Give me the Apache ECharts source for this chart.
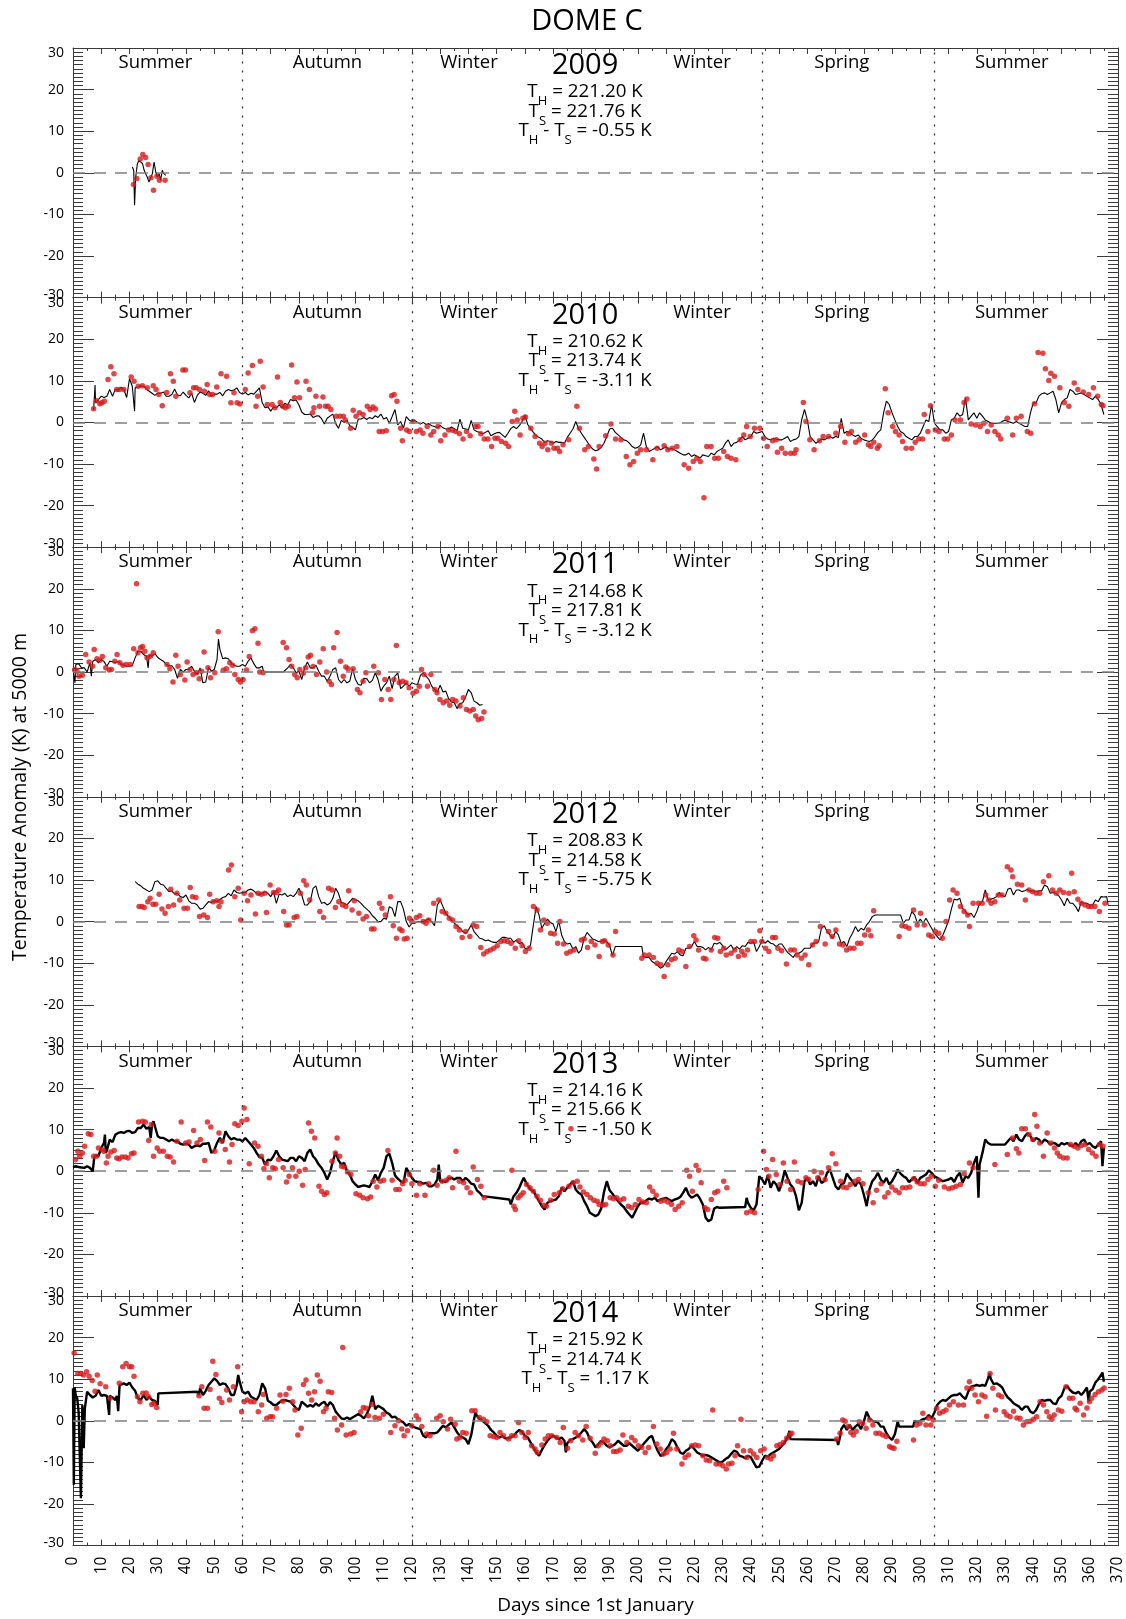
<!DOCTYPE html>
<html><head><meta charset="utf-8">
<script src="https://cdn.jsdelivr.net/npm/echarts@6/dist/echarts.min.js"></script>
<style>html,body{margin:0;padding:0;background:#fff}#c{width:1126px;height:1619px}</style>
</head><body><div id="c"></div>
<script>
const years = ['2009','2010','2011','2012','2013','2014'];
const TH = ['221.20','210.62','214.68','208.83','214.16','215.92'];
const TS = ['221.76','213.74','217.81','214.58','215.66','214.74'];
const THminusTS = ['-0.55','-3.11','-3.12','-5.75','-1.50','1.17'];
const seasons = ['Summer','Autumn','Winter','Winter','Spring','Summer'];
const seasonDays = [29.2, 90.1, 140.2, 222.7, 272.2, 332.4];
const seasonBounds = [60, 120, 244, 305];
const yearLabelDay = 181.3;

const line2009 = [[21,1.4],[21.5,0.6],[21.8,-7.8],[22.2,-1],[22.8,2.2],[23.4,3],[24,2.6],[24.6,2.2],[25.2,0.6],[25.7,-0.2],[26.3,-1],[26.9,-2.2],[27.5,-1.8],[28.1,-0.2],[28.7,2.6],[29.3,0.2],[29.9,-1],[30.5,-0.2],[31,-1.8],[31.6,0.6],[32.2,-0.2],[32.8,-0.6]];
const dots2009 = [[21.4,-2.8],[22.6,-1.4],[23.8,3.3],[24.7,4.4],[25.7,3.7],[26.6,2],[27.6,-1.2],[28.5,-4.2],[29.7,-0.8],[30.6,-1.8],[32.6,-1.8]];

const line2010 = [[7.3,3],[7.8,9],[8,4.7],[9,5.5],[10,6.3],[11,6],[12,6.3],[13,7.9],[14,6.3],[15,8],[16,7.5],[17,8.5],[18,7.9],[19,6],[20,10.5],[21,8.7],[21.8,2.7],[22,8.3],[23,8.5],[24,8.8],[25,8.7],[26,8],[27,7.5],[28,7],[29,6.5],[30,7],[31,7],[32,7.3],[33,6.3],[34,6.3],[35,6.7],[36,8],[37,6.6],[38,6.4],[39,7.3],[40,6.5],[41,5.9],[42,7],[43,4.8],[44,6.5],[45,7.3],[46,7],[47,6.5],[48,7.6],[49,6.4],[50,6.8],[51,6.8],[52,7.2],[53,6.4],[54,7.5],[55,7.9],[56,7.6],[57,7.8],[58,8.3],[59,7.2],[60,6.8],[61,7.2],[62,6.6],[63,7],[64,6.8],[65,7.5],[66,8.3],[67,4.7],[68,3.5],[69,3.7],[70,2.7],[71,3.7],[72,3.5],[73,4.2],[74,3.5],[75,4.6],[76,4.2],[77,5.5],[78,5.2],[79,5.4],[80,4.2],[81,2.5],[82,1.9],[83,1.9],[84,2],[85,1.2],[86,1.5],[87,1.6],[88,0.9],[89,-0.4],[90,1],[91,1.5],[92,2],[93,-0.3],[94,-1.4],[95,0.5],[96,0],[97,0.5],[98,-0.8],[99,-1.2],[100,-1.8],[101,0.8],[102,0.8],[103,1.2],[104,0.7],[105,1.2],[106,0.9],[107,1.6],[108,1.2],[109,2],[110,0.8],[111,1.2],[112,-0.2],[113,1.4],[114,3.1],[115,-0.6],[116,0.2],[117,-1.4],[118,1.4],[119,0.6],[120,0.2],[121,0.5],[122,0],[123,-0.4],[124,0],[125,-0.5],[126,-0.3],[127,-0.8],[128,-1],[129,-1.3],[130,-0.7],[131,-1.3],[132,-1.6],[133,-1.6],[134,-1.1],[135,-1.5],[136,-2],[137,0.8],[138,-1.4],[139,-1.6],[140,-1.8],[141,0.5],[142,-1.8],[143,-2.2],[144,-2.4],[145,-2.8],[146,-2.4],[147,-2],[148,-3.2],[149,-2.8],[150,-2.5],[151,-2.4],[152,-3],[153,-3.6],[154,-2.6],[155,-1.5],[156,-1],[157,-1.5],[158,-0.8],[159,0.2],[160,1.8],[161,-0.5],[162,-1.5],[163,-2.4],[164,-3.2],[165,-3.6],[166,-4],[167,-4.8],[168,-4.4],[169,-4.6],[170,-5],[171,-4.6],[172,-4.8],[173,-4.8],[174,-5],[175,-3.6],[176,-2.6],[177,-1.6],[178,0.2],[179,-1.5],[180,-2.6],[181,-3.6],[182,-4.6],[183,-5.6],[184,-6.4],[185,-6.8],[186,-6.6],[187,-6],[188,-5],[189,-3.4],[190,-1.6],[191,-1.4],[192,-2.4],[193,-3],[194,-3.6],[195,-4.2],[196,-4.4],[197,-5],[198,-5.8],[199,-6.2],[200,-6],[201,-5.4],[202,-2.6],[203,-5.8],[204,-7],[205,-6.6],[206,-6.2],[207,-5.8],[208,-6.6],[209,-6.2],[210,-5.8],[211,-6.6],[212,-6.2],[213,-6.6],[214,-7],[215,-7.4],[216,-7.8],[217,-7.8],[218,-7.4],[219,-8.2],[220,-7.8],[221,-8.2],[222,-8.6],[223,-7.8],[224,-8],[225,-8.2],[226,-7.4],[227,-7.8],[228,-7],[229,-6.6],[230,-6.2],[231,-5],[232,-4.2],[233,-5.8],[234,-5],[235,-4.8],[236,-4.2],[237,-3.4],[238,-4.2],[239,-3.8],[240,-3.4],[241,-2.2],[242,-2.6],[243,-2.4],[244,-2.2],[245,-3.4],[246,-4],[247,-4.2],[248,-3.8],[249,-4],[250,-4.2],[251,-4.2],[252,-3.8],[253,-3.4],[254,-4.6],[255,-4.2],[256,-4],[257,-3.4],[258,0.6],[259,3.1],[260,0.6],[261,-3.4],[262,-4.2],[263,-5],[264,-4.6],[265,-4],[266,-4.2],[267,-3.8],[268,-3.4],[269,-3.8],[270,-3.4],[271,-3.6],[272,1],[273,-2.6],[274,-2.2],[275,-2.4],[276,-3],[277,-3.4],[278,-3],[279,-3.8],[280,-4.2],[281,-4.4],[282,-4.6],[283,-4.2],[284,-3.4],[285,-2.4],[286,-1.8],[287,2.3],[288,5.1],[289,4.3],[290,2.3],[291,0.6],[292,-1],[293,-2.2],[294,-2.6],[295,-3.4],[296,-3.8],[297,-4.2],[298,-3.4],[299,-3.4],[300,-2.6],[301,-1],[302,0.6],[303,0.2],[304,4.3],[305,-0.2],[306,-1],[307,-1.8],[308,-1.8],[309,-2.6],[310,-2.2],[311,0.6],[312,1],[313,2.3],[314,1.5],[315,1.9],[316,5.9],[317,0.6],[318,1.5],[319,2.3],[320,1],[321,2.3],[322,1.5],[323,0.6],[324,0.2],[325,-0.2],[326,-0.2],[327,-0.2],[328,-0.2],[329,0.2],[330,0.6],[331,0.2],[332,0],[333,-0.2],[334,0.2],[335,-0.2],[336,-0.6],[337,-1],[338,-1],[339,2.3],[340,4.7],[341,4.7],[342,6.3],[343,6.9],[344,7.1],[345,6.7],[346,7.1],[347,7.5],[348,5.5],[349,2.3],[350,4.7],[351,5.5],[352,5.9],[353,7.9],[354,7.5],[355,6.7],[356,6.9],[357,7.1],[358,6.7],[359,6.3],[360,5.9],[361,5.5],[362,6.3],[363,5.5],[364,4.3],[365,1.9]];
const dots2010 = [[7.3,3.3],[8.3,5.2],[9.5,4.5],[10.2,4.7],[11.1,5.1],[12.4,10.3],[13.4,13.4],[14.5,11.7],[15.5,7.9],[16.5,7.9],[18,7.9],[20.6,10.9],[21.6,9.9],[23.1,8.7],[24.6,8.8],[26.3,8.3],[28.4,8.8],[29.4,7.9],[30.4,6.7],[31.6,4],[33.2,7.2],[34.5,11.7],[35.5,9.9],[36.4,6.3],[38.9,12.6],[39.8,12.6],[41.4,7.1],[42.7,8.3],[43.6,8.3],[44.8,7.9],[46.5,7.5],[47.5,9.1],[48.4,6.7],[49.4,6.7],[50.9,8.5],[52.4,11.7],[54.4,11.1],[55.9,4.7],[57,7.1],[58.1,4.7],[59.1,4.4],[61,7.9],[62,11.9],[63.5,13.7],[64.8,3.9],[65.4,6.3],[66.3,14.7],[67.3,8.5],[68.8,4.3],[70.5,4.3],[71.5,3.5],[72.4,10.9],[73.4,4.8],[74.3,3.9],[75.2,3.5],[76.2,3.9],[77.4,13.8],[78.4,5.9],[79.3,9.7],[80.2,5.9],[82.5,9.9],[83.7,7.9],[84.8,2.3],[85.3,3.5],[86,6.3],[87.3,3.9],[88.5,6.1],[89.4,3.9],[90.3,3.9],[91.3,3.1],[93.2,1.5],[94.5,1.5],[95.7,1.5],[96.4,0.6],[98.3,-1.4],[99.2,2.9],[100.2,1.5],[101.4,2.3],[102.7,1.9],[104.2,3.9],[105.2,3.1],[106.2,3.7],[107.1,3.2],[108.4,-2.2],[109.6,-2.2],[110.9,-2],[112.8,6.4],[113.7,6.7],[114.7,5.1],[116,-1.4],[116.6,-4.4],[118.1,-1.8],[119.1,-2.2],[120.4,0.2],[121.6,-2.2],[122.9,-1.8],[123.9,-2.6],[125.4,-1],[126.7,-3],[127.7,-2.2],[129.2,-1],[130.2,-4.4],[131.7,-3],[133,-1.8],[134.3,-1.9],[135.5,-2.2],[136.8,-2.7],[138.1,-4],[139.3,-2.2],[140.6,-3.2],[142.5,-1],[143.4,-1],[144.4,-2.7],[145.6,-4],[146.9,-4],[148.2,-5.8],[149.4,-3.8],[150.4,-3.8],[151.7,-4.6],[153.2,-5],[154.2,-5.8],[155.5,0.2],[156.4,2.7],[157.3,0.6],[158.3,-3],[159.3,1],[160.2,1.3],[162.1,-1.4],[163.6,-3.4],[165.2,-5],[166.1,-5.8],[167.1,-5],[168.1,-6.6],[169.4,-5],[170.3,-6.2],[171.5,-6.2],[172.3,-7],[173.5,-5.4],[175.5,-4.2],[178.4,3.9],[179.3,-1.4],[181.2,-6.6],[182.5,-5.8],[184.4,-8.8],[185.4,-11.2],[186.3,-5.8],[188.6,-3.2],[190.5,-0.4],[192.1,-4],[194,-4.2],[195.9,-8.2],[197.2,-10.2],[198.5,-9.4],[199.8,-7.4],[201,-6.6],[203,-6.6],[205.3,-9],[206.8,-6.2],[209.3,-5.6],[210.6,-6.6],[212.2,-6.2],[213.8,-5.8],[216.4,-10.2],[218,-11],[219.6,-9.4],[220.9,-8.6],[222.1,-9.4],[223.4,-18.1],[224.4,-5.8],[225.9,-5.8],[227.2,-8.6],[228.5,-8.6],[230.4,-7],[231.7,-8.2],[233,-8.6],[234.7,-9],[236.2,-4.2],[237.5,-3],[238.5,-1],[239.8,-3.4],[241.3,-1.4],[243.2,-1.4],[244.5,-3.8],[245.8,-5.8],[247.7,-4.4],[249,-4.2],[249.4,-7.2],[250.9,-6.2],[252.2,-7.4],[254.1,-7.4],[255.4,-7.4],[256,-6.6],[258.6,4.8],[259.5,0.2],[260.9,-4.2],[262.4,-6.6],[264.3,-4.4],[265.6,-3.4],[267.5,-3.4],[270.1,-2.6],[271.8,-1],[273.3,-4.8],[274.6,-2.7],[275.6,-2.2],[277.1,-4.8],[278.4,-4.2],[280.3,-3],[281.6,-5.4],[282.5,-5.8],[283.5,-4.8],[284.8,-6.2],[285.4,-5.6],[287.6,8.1],[288.6,2.3],[290.2,-1],[291.2,-2.2],[292.5,-3],[293.7,-4.6],[295,-6.2],[296.9,-6.2],[298.2,-4.8],[299.5,-4],[300.8,-4],[301.4,1.9],[302.7,-2.2],[303.6,4],[305.3,-1.8],[306.6,-2.2],[308.5,-4],[309.7,-4],[311,-3],[312.3,0.6],[314.2,0.6],[315.5,4.8],[316.5,5.6],[318,-0.4],[319.6,-0.6],[321.2,-1],[322.5,-0.2],[323.8,-2.2],[325.1,-0.6],[326.4,-2.2],[327.6,-3],[328.5,-4],[330.8,1],[332.7,-3],[334,1],[335.7,1.5],[337.9,-2.2],[339.1,-2.6],[340.4,4.5],[341.7,16.8],[343.4,16.6],[344.3,12.9],[345.5,10.1],[346.2,11.8],[347.5,11.1],[349.4,8.3],[351,4.8],[352.6,3.9],[354.5,9.5],[355.8,7.9],[357.7,7.3],[359.6,6.7],[361.3,8.3],[362.8,6.3],[364.1,4.3],[364.7,4]];

const line2011 = [[0,0.6],[0.7,-2.6],[1,1.8],[2,2],[3,1],[4,1],[5,0],[6,2.2],[6.5,-1],[7,2.6],[8,3],[9,2.2],[10,3],[11,2.5],[12,1.4],[13,2.6],[14,2.5],[15,2.2],[16,2.6],[17,1.8],[18,1.6],[19,1.4],[20,1.4],[21,1.6],[22,3.4],[23,5],[24,5],[25,4.2],[26,3.8],[26.6,1],[27,4],[28,3.8],[29,4.4],[30,3.5],[31,3],[32,2.6],[33,1.8],[34,1.5],[35,1.5],[36,0.6],[37,-1.5],[38,0.6],[39,0],[40,0.6],[41,0.6],[42,1.4],[43,0.2],[44,-0.6],[45,1],[46,-2.6],[47,-2.4],[48,1.1],[49,0.2],[50,0.6],[51,3],[51.5,7.9],[52,5.5],[53,3.2],[54,3.4],[55,3.2],[56,2.2],[57,1.6],[58,1.4],[59,1.4],[60,1.8],[61,1.4],[62,2.6],[63,3.4],[64,2],[65,1],[66,1],[67,1.4],[67.5,0],[74.5,0],[75,0],[76,1],[77,1.8],[78,1],[79,-0.2],[80,0.2],[81,-1.8],[82,1],[83,2.4],[84,1],[85,1],[86,1.6],[87,0.2],[88,-1],[89,-1],[90,-2.2],[91,-1],[92,0.6],[93,1],[94,-1.8],[95,-2.6],[96,-1.8],[97,-2.6],[98,-2.2],[99,0.8],[100,-1.8],[101,-3],[102,-3.2],[103,-1.5],[104,-1.6],[105,-2.6],[106,-2],[107,-0.2],[108,-1.8],[109,-4.6],[110,-3.4],[111,-2.6],[112,-1],[113,-4],[114,-1],[115,-0.2],[116,-4],[117,-3.4],[118,-2.6],[119,-3.4],[120,-2.6],[121,-2.9],[122,-3],[123,-0.8],[124,-0.2],[125,-1],[126,-1.8],[127,-3.4],[128,-4.2],[129,-4.8],[130,-3.2],[131,-4.8],[132,-4.6],[133,-6.4],[134,-7.2],[135,-7.4],[136,-8.8],[137,-7.6],[138,-7.4],[139,-6],[140,-4.2],[141,-5],[142,-7],[143,-7.4],[144,-8],[145,-7.8]];
const dots2011 = [[0.6,0.6],[1.4,0.2],[2.1,-1],[3.3,-0.8],[4.5,4.2],[5.7,2.4],[6.9,1.4],[7.5,5.4],[8.5,3.2],[9.5,2.8],[10.4,3.7],[11.6,1],[12.8,0.5],[13.6,0.6],[14.8,2.6],[15.6,4.2],[16.6,2.2],[17.7,1.6],[18.9,1.8],[20.3,1.8],[21.5,5.6],[22.5,21.2],[23,4.6],[23.9,5.8],[24.6,6.1],[25.4,5],[26.2,3.4],[27.4,3.8],[28.4,4.6],[33.3,1.8],[34.3,0.8],[35.4,-2.4],[36.4,4],[37.2,1.4],[38,-0.6],[39.6,-1.9],[40.4,2.4],[41.4,0.6],[42.5,-0.6],[43.7,-0.2],[44.7,-1.6],[45.5,0.2],[46.4,4.8],[47.8,1],[48.7,-1.4],[50.2,-0.2],[51.4,9.7],[53.2,0.4],[54.3,0.8],[55.5,2.2],[56.5,1.6],[57.3,-0.6],[58.5,-1.8],[59.3,-2.4],[60.2,-1.8],[61.4,0.5],[62.4,3.7],[63.5,9.9],[64.4,10.4],[65.5,6.9],[66.1,0],[67.3,-0.2],[74.4,7.1],[75.6,5.8],[76.5,3],[77.4,1.4],[78.5,-0.6],[79.4,-1.4],[80.3,0.6],[81.5,-0.3],[82.4,1],[83.3,3.6],[84.1,4],[85,1.3],[86.2,-0.6],[87.4,2.4],[88.6,5.6],[89.8,0],[90.7,-2.2],[91.5,-3],[92.3,5.8],[93.5,9.5],[94.7,2.6],[95.7,-1],[96.6,1.2],[97.4,0.8],[99.2,0.8],[100.7,-4.2],[101.6,-5],[102.7,-2.2],[103.7,-0.2],[106.5,1.4],[108.1,-0.2],[109.2,-6.6],[110.4,-1.8],[111.6,-4.2],[112.5,-6.6],[113.6,-1.8],[114.5,6.4],[115.5,-2.6],[116.7,-2.2],[117.9,-2.6],[119,-3.8],[120.4,-5.1],[121.6,-4.6],[122.6,-3.4],[123.4,0.6],[124.3,-0.6],[125.5,-3.4],[126.7,-0.6],[128.1,-4.2],[128.9,-5],[129.9,-6.6],[131.1,-7.4],[132.3,-7],[133.4,-8],[134.4,-6.6],[135.6,-7],[137,-8.2],[138.2,-6.2],[139.3,-9],[140.5,-9.4],[141.7,-9],[142.6,-10.6],[143.5,-11.5],[144.7,-11.2],[145.5,-9.6]];

const line2012 = [[22,9.6],[23,9],[24,8.6],[25,8],[26,7.6],[27,7.2],[28,7.6],[29,9.6],[30,9.8],[31,9],[32,8.8],[33,8],[34,7.2],[35,7.4],[36,6.6],[37,6.8],[38,6],[39,5.8],[40,6.4],[41,5],[42,4.4],[43,4.4],[44,4],[45,3],[46,3.2],[47,4],[48,4.8],[49,4.6],[50,5],[51,4.8],[52,5.3],[53,5.8],[54,6],[55,6.8],[56,6.2],[57,7.6],[58,7],[59,6.8],[60,7],[61,7],[62,7.6],[63,7.8],[64,7.4],[65,6.8],[66,6.4],[67,6.8],[68,7.2],[69,6.8],[70,6],[71,7.2],[72,4.4],[73,6.6],[74,6.4],[75,6.8],[76,6],[77,6.4],[78,6],[79,6.8],[80,8],[81,6.4],[82,4],[83,4],[84,4.8],[85,8],[86,8.6],[87,6],[88,4.4],[89,4.6],[90,4],[91,4.4],[92,5.6],[93,8],[94,6.8],[95,4.6],[96,4.4],[97,4],[98,4.8],[99,5.6],[100,5.2],[101,5],[102,4.4],[103,3.6],[104,3],[105,2.4],[106,1.4],[107,0.8],[108,0],[109,0],[110,0.8],[111,0.6],[112,3.6],[113,3.2],[114,1.2],[115,4.8],[116,4.8],[117,3],[118,0],[119,-1.3],[120,-0.4],[121,-0.4],[122,0],[123,0],[124,0],[125,0.4],[126,0.6],[127,0],[128,-1],[129,4],[130,5.2],[131,3.6],[132,2],[133,1.2],[134,0.4],[135,-0.4],[136,-1],[137,-1.6],[138,-2.4],[139,-2.8],[140,-2],[141,-0.8],[142,-2.4],[143,-3.2],[144,-4],[145,-4.2],[146,-4.6],[147,-4.4],[148,-4.8],[149,-5],[150,-5],[151,-4.4],[152,-3.8],[153,-3.8],[154,-4],[155,-4],[156,-5],[157,-4.4],[158,-5.3],[159,-5],[160,-6.4],[161,-6.6],[162,-5.6],[163,-0.8],[164,3.6],[165,1.6],[166,-1.6],[167,-0.4],[168,0.6],[169,-0.2],[170,-0.6],[171,-2.4],[172,0.2],[173,-3.2],[174,-4.8],[175,-5.4],[176,-5.2],[177,-6.6],[178,-6],[179,-7.6],[180,-6.8],[181,-4],[182,-2.6],[183,-3.4],[184,-4.2],[185,-4.4],[186,-4.8],[187,-4.8],[188,-4.4],[189,-4.8],[190,-5.8],[191,-8.2],[192,-6],[201.4,-6],[202,-8.4],[203,-8.6],[204,-8.6],[205,-9.6],[206,-10],[207,-10.6],[208,-11.2],[209,-10.8],[210,-9.6],[211,-8.6],[212,-7.6],[213,-7.8],[214,-7.2],[215,-8],[216,-8.2],[217,-6.4],[218,-6.4],[219,-6],[220,-4.8],[221,-6],[222,-6],[223,-6.2],[224,-6.8],[225,-6.2],[226,-6.8],[227,-5.2],[228,-5.4],[229,-5],[230,-5.8],[231,-6.8],[232,-6.2],[233,-5.6],[234,-6.8],[235,-6],[236,-6.6],[237,-5.8],[238,-6],[239,-5],[240,-5.2],[241,-5],[242,-7.2],[243,-6],[244,-4.4],[245,-5.2],[246,-4.6],[247,-5.2],[248,-5.4],[249,-6],[250,-5.4],[251,-5.4],[252,-6.4],[253,-7.4],[254,-8],[255,-8.6],[256,-7.6],[257,-7.6],[258,-7.2],[259,-6.4],[260,-6.4],[261,-6.4],[262,-5.2],[263,-5.2],[264,-4.8],[265,-1.6],[266,-1],[267,-2.4],[268,-3.2],[269,-4],[270,-2.4],[271,-3.2],[272,-5.2],[273,-4.8],[274,-6],[275,-4],[276,-2.8],[277,-1.2],[278,-2.4],[279,-1.6],[280,-2],[281,-0.8],[282,0],[283,1.2],[284,1.6],[293,1.6],[294,-0.4],[295,0.4],[296,0.4],[297,2.4],[298,1.6],[299,-0.4],[300,0.6],[301,-0.4],[302,0.8],[303,-0.4],[304,-1.6],[305,-2.8],[306,-3.6],[307,-4.4],[308,-3.2],[309,-1.6],[310,0.2],[311,3],[312,5.4],[313,5.2],[314,5.6],[315,3.2],[316,2.4],[317,1.6],[318,2],[319,1],[320,2.4],[321,4.4],[322,4.8],[323,7.6],[324,5.2],[325,5.4],[326,5.6],[327,6],[328,7],[329,6.2],[330,6],[331,7.8],[332,8],[333,6.4],[334,7.6],[335,7.6],[336,7.2],[337,7.4],[338,7.8],[339,7.2],[340,7.4],[341,7.2],[342,7.4],[343,7.4],[344,8.8],[345,8.4],[346,6.8],[347,7],[348,6.8],[349,6.2],[350,5.2],[351,3.8],[352,5.6],[353,4.4],[354,4.4],[355,3.6],[356,2.4],[357,4.8],[358,4.4],[359,4.4],[360,4],[361,4],[362,5.2],[363,4.8],[364,6],[365,5.9],[366,6],[366.5,4]];
const dots2012 = [[23.4,3.6],[24.4,3.6],[25.2,3.4],[26.5,4.8],[27.3,5.6],[28.3,4.2],[29.3,4.2],[30.5,6.6],[31.5,3],[32.6,2],[33.8,3.6],[34.6,7.8],[35.6,4],[36.8,6.8],[37.8,5.2],[39.3,3.2],[40.5,3.2],[41.5,8.2],[42.3,6],[43.5,5.8],[44.8,1.2],[46.3,1.6],[47.6,1],[48.4,6.6],[49.6,4.8],[50.9,5],[51.7,3.6],[52.4,4.8],[55.1,12.4],[56.1,13.6],[57.3,6],[58.5,8],[59.4,0.4],[60.6,6.8],[61.8,5],[63,6.4],[64.6,1.8],[65.5,6.8],[66.7,6.6],[67.9,6.8],[68.5,2.2],[69.8,8.8],[71,7],[72,7],[72.8,7.6],[74.6,2.4],[75.6,-0.8],[76.5,-0.8],[78.3,1],[79.3,1.2],[80.5,6.8],[81.7,9.8],[82.6,8.8],[83.8,5.2],[87.4,2.4],[88.7,1],[90.5,8],[91.7,7.6],[92.9,3.4],[94.1,4.8],[95.4,4],[96.6,3.6],[97.6,7.4],[98.8,2.8],[99.6,5],[101.2,2],[102.7,0.6],[103.9,1.2],[105.7,-1.8],[106.6,-1.8],[108.5,4.4],[109.4,3.2],[110.6,1.6],[112.4,6],[113.4,-1],[114.5,-4],[115.7,-1.8],[116.5,-2.2],[117.3,-4.2],[118.3,-4],[119.1,0.8],[120,0],[121.6,1],[122.8,1.4],[124,0],[125,-0.4],[125.9,0.4],[127.7,4.4],[129.5,5.2],[130.7,2.4],[132,2],[133.2,0.8],[134.4,0.4],[135.6,-1.2],[136.8,-2],[137.8,-3.8],[139,-2.4],[140.5,-3.6],[141.7,-0.8],[142.9,-1.2],[144.4,-6.2],[145.4,-7.8],[146.6,-7.2],[147.8,-6.8],[149,-6.4],[150.2,-5.8],[151.5,-4.8],[152.7,-4.6],[153.9,-4.8],[155.1,-5.2],[156.6,-6.4],[157.8,-4.6],[159,-5.8],[160.2,-7.2],[161.5,-6.4],[163,3.6],[164.3,2.8],[165.5,-2],[166.7,0.4],[167.9,-0.4],[169.1,-2.8],[170.4,-3],[171.6,-5.2],[172.4,0],[173.7,-5.4],[174.8,-7.6],[176.1,-7.2],[177.4,-6.8],[180,-4.4],[181,-4.2],[182.2,-6.2],[183.5,-4.8],[184.8,-5.6],[186.3,-8.4],[187.4,-4.8],[188.2,-4.6],[189.5,-5.6],[191.2,-8],[192.1,-2.4],[201.4,-8.8],[202.3,-8],[204,-8],[205.5,-8.6],[206.8,-10],[208.1,-10.4],[209.3,-13.2],[210.6,-10.4],[211.9,-9.2],[213.2,-8.8],[214.5,-6.8],[215.7,-7.2],[217,-10.8],[218.3,-6],[219.8,-3.4],[220.6,-4.4],[221.5,-6.8],[223.2,-8.8],[224.1,-9],[226,-6.8],[227.2,-3.8],[228.3,-4],[229.2,-7.2],[230.4,-6.4],[231.3,-8],[233,-7.6],[234.3,-6.8],[235.6,-8.4],[236.8,-7.2],[237.7,-8],[238.8,-6.8],[240,-4.8],[241.3,-4.8],[243.2,-2.2],[243.9,-4.8],[245.2,-6.4],[246.4,-7.2],[247.7,-3.8],[248.7,-3.8],[249.6,-6.4],[250.9,-7],[252.6,-10.2],[254.1,-6.8],[255.4,-6.8],[256.4,-8],[257.9,-8.8],[259.2,-8],[260.5,-10.4],[261.8,-5.6],[263.1,-4.8],[264.6,-1.2],[266.3,-5.4],[267.5,-2.4],[268.8,-3.6],[270.1,-2],[271.4,-5.4],[272.6,-5.6],[273.9,-6.8],[275.2,-6.4],[276.5,-6.4],[277.8,-5.2],[279,-5.2],[280.3,-3.2],[281.6,-2],[282.5,-3.4],[283.5,2.6],[292.5,-3.6],[293.5,-1],[294.8,-1.2],[296,-1.6],[297.6,2.8],[298.9,-0.8],[300.1,2],[301.4,-0.8],[303,-3.2],[304,-3.6],[305.3,-2.4],[306.5,-2.8],[307.8,-4],[309.1,0],[310.4,5.2],[311.6,7.6],[313,6.8],[314.2,3.6],[315.5,2.4],[316.8,1.6],[317.4,-1.2],[318.7,4.4],[320.6,4.4],[321.9,4.4],[323.2,6.4],[324.2,5.2],[325.1,4.4],[326.4,4.8],[327.6,6.4],[328.9,6.4],[330.8,13.2],[332.1,12.4],[332.7,10.8],[334.4,9],[335.9,8.8],[337.2,5.2],[338.5,7.6],[339.8,7.2],[341.1,6.8],[342.3,6.8],[343.6,9.6],[345.5,11],[346.8,7.6],[348.1,6.8],[349.4,7.6],[350.7,7],[352.6,6.8],[353.6,11.6],[354.5,7.2],[355.8,5.4],[357,4.4],[358.3,4],[359.6,3.6],[360.5,3.6],[361.8,3.6],[363.4,2.4],[365.4,4.4]];

const line2013 = [[0,1],[1,1.2],[2,1],[3,0.9],[4,0.8],[5,1.2],[6,0.8],[7,0],[7.5,3.2],[8,3.8],[9,3.6],[10,5.6],[11,6.8],[11.3,8.8],[11.6,4.4],[12,5],[13,7.6],[14,7],[15,8.8],[16,9.2],[17,9.4],[18,9.2],[19,9.6],[20,9.7],[21,9.2],[22,9.4],[23,10.4],[24,10.4],[25,11.2],[26,10.2],[27,10.6],[27.5,8],[28,11.2],[28.5,12],[29,12],[30,8.4],[31,8],[32,8],[33,7.6],[34,7.2],[35,7.6],[36,7.2],[37,7.2],[38,6.6],[39,6.4],[40,6.6],[41,6.4],[42,5.6],[43,6],[44,6.2],[45,6],[46,6.6],[47,6.6],[48,6.8],[49,4.4],[50,5],[51,6.8],[52,8],[53,6.8],[54,9.6],[55,8.4],[56,7.6],[57,8],[58,7.6],[59,7.6],[60,7.2],[61,8],[62,7.2],[63,6.4],[64,5.6],[65,4.4],[66,3.4],[67,3.2],[68,1.6],[69,2.8],[70,2.6],[71,3.6],[72,5],[73,3.6],[74,2.8],[75,2.6],[76,2.4],[77,3.2],[78,3.2],[79,2.4],[80,3.6],[81,3.2],[82,2.4],[83,4.4],[84,5.2],[85,3.6],[86,2.8],[87,1.6],[88,0.8],[89,-0.4],[90,-2],[91,-0.4],[92,2.4],[93,4.6],[94,2.6],[95,1.6],[96,2],[97,0],[98,-0.8],[99,-2.4],[100,-3.2],[101,-3.8],[102,-3.6],[103,-3.4],[104,-3.6],[105,-3.8],[106,-2.4],[107,-0.8],[108,-2.2],[109,-0.4],[110,0.8],[111,3.6],[112,4.2],[113,2],[114,-1],[115,-1.8],[116,-2.4],[117,-2.8],[118,0.8],[119,-0.4],[120,-1.6],[121,-2.4],[122,-2.6],[123,-2.6],[124,-3],[125,-2.8],[126,-3.6],[127,-3.6],[128,-3.2],[129,-2],[129.5,1.6],[130,-2.4],[131,-2.4],[132,-2.6],[133,-1.8],[134,-1.6],[135,-2],[136,-1.6],[137,-1.6],[138,-2.4],[139,-1.6],[140,-2.2],[141,-3],[142,-3.2],[143,-4.6],[144,-5.2],[145,-6],[154.5,-6.8],[155,-8],[156,-6],[157,-5.2],[158,-4],[159,-2.4],[159.6,-1.6],[160,-2.2],[161,-3.4],[162,-4.4],[163,-4.8],[164,-6],[165,-7.2],[166,-8.4],[167,-9.2],[168,-7.6],[169,-7.2],[170,-7],[171,-6.8],[172,-6],[173,-4],[174,-4.8],[175,-4],[176,-3.2],[177,-2.4],[178,-4.4],[179,-5.2],[180,-5.6],[181,-7.2],[182,-8.4],[183,-10],[184,-10.4],[185,-10.8],[186,-10.4],[187,-9],[188,-5],[189,-2.4],[190,-4.6],[191,-5.4],[192,-6.4],[193,-7.2],[194,-8],[195,-8.6],[196,-9.6],[197,-10.4],[198,-11.2],[199,-9.8],[200,-8.4],[201,-7.6],[202,-7.6],[203,-7],[204,-6.6],[205,-6.8],[206,-6.4],[207,-7.2],[208,-6.8],[209,-6.6],[210,-6.4],[211,-6.8],[212,-7.2],[213,-6.8],[214,-6.6],[215,-6.2],[216,-5.2],[217,-4],[218,-5.6],[219,-6.4],[220,-6],[221,-5.6],[222,-6.6],[223,-8],[224,-11.2],[225,-12],[226,-11.6],[227,-9],[228,-8.6],[229,-8.8],[238,-8.6],[238.5,-6.4],[239,-7.6],[240,-8.8],[241,-9.4],[242,-8],[243,-1.2],[244,-2],[245,-3.2],[246,-1],[247,-4],[248,-2.4],[249,-3.2],[250,-4.8],[251,-2.8],[252,0.2],[253,-1.6],[254,-3.2],[255,-4],[256,-6],[257,-9.4],[258,-7.6],[259,-2.4],[260,-1.6],[261,-3.2],[262,-2.4],[263,-3.6],[264,-1.2],[265,-2.8],[266,-2.4],[267,-0.4],[268,0.4],[269,-1.6],[270,-3.6],[271,-4.4],[272,-3.2],[273,-2.8],[274,-0.6],[275,-1.6],[276,-2.4],[277,-3.6],[278,-2.4],[279,-3.2],[280,-5.6],[281,-8.4],[282,-4.4],[283,-2.4],[284,-1.6],[285,-0.4],[286,-2],[287,-2.8],[288,-1.6],[289,-3.2],[290,-2.4],[291,-1.2],[292,0.4],[293,-0.6],[294,-1.2],[295,-1.6],[296,-2.6],[297,-2],[298,-1.4],[299,-2.8],[300,-1.6],[301,-1.2],[302,-0.8],[303,0.2],[304,-0.4],[305,-1.2],[306,-1.6],[307,-2],[308,-2.4],[309,-2.2],[310,-2],[311,-1.6],[312,-2.6],[313,-1.2],[314,-0.4],[315,-2.8],[316,-1.2],[317,-1.6],[318,-0.4],[319,2],[320,3.6],[320.6,-6.4],[321,1.6],[322,4.4],[323,7.6],[324,6.8],[325,6.4],[330,6.4],[331,7.2],[332,8],[333,7.2],[334,8.8],[335,7.6],[336,7.2],[337,8.4],[338,9.2],[339,8.4],[340,7.2],[341,8],[342,7.6],[343,6.8],[344,7.6],[345,7.2],[346,6.4],[347,6.8],[348,6.6],[349,6],[350,6.8],[351,6.4],[352,6.8],[353,6.2],[354,6],[355,6.8],[356,6],[357,7.2],[358,7.6],[359,6.4],[360,6.8],[361,6],[362,5.6],[363,6.4],[364,7.2],[364.5,1.2],[365,5.6]];
const dots2013 = [[0.9,2.8],[1.7,4.8],[2.4,3.6],[3.3,4.4],[4.1,6],[5.4,9],[6.3,8.8],[7.3,3.6],[8.3,3.6],[9,5.6],[10.2,5.2],[10.9,4.8],[11.8,2],[12.4,3.6],[13.4,4.6],[14.6,5],[15.5,3.2],[16.3,3],[17.3,3.4],[18.5,3.4],[19.5,3.2],[20.7,4.2],[21.6,4.4],[23.2,11.8],[24.6,12],[25.6,11.8],[26.8,7.4],[27.7,11.2],[28.5,3.6],[29.8,5.6],[30.7,4.8],[32,4.8],[33.4,3.6],[34.4,3.4],[35.6,2.2],[36.8,7.2],[38.3,11.8],[39.9,6.8],[41.1,7],[42.7,9.8],[43.9,6.8],[45.1,7.6],[46.6,2.6],[47.6,11.8],[48.8,10.6],[50.2,4.8],[51.7,9.2],[52.7,7.2],[53.9,5.2],[55.4,2.2],[56.3,6.4],[57.3,11.4],[58.5,11],[59.8,12],[60.6,15.2],[61.6,12.4],[62.4,1.8],[64.3,6.8],[65.5,6],[66.7,3.6],[67.6,0.6],[68.5,1.8],[69.5,-1.6],[70.7,0.8],[71.6,0.6],[72.8,2.8],[74.4,0.8],[75.6,-2.6],[76.5,-1.2],[77.7,0.8],[78.9,-1.2],[80.1,0],[81.3,-3.4],[82.2,0.4],[83.4,11.6],[84.4,9.6],[85.6,8],[87.1,-3.6],[88,-4.8],[89,-5.6],[89.9,-5.2],[91.7,2.4],[92.9,4.4],[93.5,8],[94.4,3.6],[95.1,1.2],[96,1],[97.2,-0.2],[98.4,-0.8],[100.2,-5.4],[101.5,-5.8],[102.7,-6.4],[104.3,-6.6],[105.4,-6.2],[106.3,-2.4],[107.6,-3.8],[108.8,-2.4],[110,-2.2],[111.5,5],[113,-2.2],[114.3,-4.4],[115.5,-4.4],[116.7,-3],[117.6,-2.2],[119.1,-0.8],[120,-3],[121.6,-5.8],[122.8,-3],[124.6,-5.8],[125.9,-3],[127.7,0.2],[128.9,-3.4],[130.7,-2.4],[132.2,-2.2],[133.2,-1.6],[134.4,-4],[135.6,4.8],[136.8,-2.4],[138.3,-2.8],[139.5,-4],[140.7,-5.2],[141.7,1],[143.2,-2],[144.4,-3.6],[145.6,-6.4],[155.4,0.2],[156.1,-8.4],[156.6,-9.2],[157.6,-6.4],[158.5,-5.8],[159.4,-5.2],[160.6,-3.2],[161.8,-4],[163,-4.8],[164.3,-6],[165.5,-7],[166.7,-8.2],[167.6,-8.4],[169.1,-7],[170.4,-5.6],[172.2,-5.2],[173.4,-4.2],[175.6,-3.6],[176.3,10.2],[177.1,-2.8],[178.5,-2.4],[179.5,-3.8],[180.7,-5],[182,-5.6],[183.2,-6.4],[184.4,-7],[185.6,-7.2],[186.3,-8],[187.6,-8.2],[188.6,-8],[190.2,-6.4],[191.4,-6.6],[192.5,-6.4],[193.7,-7],[195,-6.6],[196.6,-8.4],[197.8,-8.8],[199.1,-8],[200.4,-6.8],[201.7,-7.4],[203,-7.6],[204.2,-3.8],[205.3,-4.8],[206.5,-5.8],[208.1,-7.2],[209.3,-7],[210.6,-7.4],[211.9,-8],[213.2,-9.2],[214.5,-8.4],[215.7,-7.6],[217.3,0.2],[218.3,-1.2],[219.3,-4.8],[220.6,1.4],[221.5,0.2],[222.4,-2.8],[223.7,-8.8],[224.7,-9.2],[226,-6.8],[227.2,-5.2],[228.3,-4.8],[230.4,-2.4],[231.5,-4],[238.5,-10],[240,-9.6],[241.3,-10],[242.6,-4.4],[244.5,4.8],[245.5,0.4],[246.4,-1.2],[247.7,2.8],[249,-0.8],[250.3,-3.2],[251.5,2],[252.8,-2.4],[254.1,-4.4],[255.4,2.2],[256.7,-2.4],[258,-2.8],[259.5,-1.6],[260.5,-2],[262.4,0],[263.7,-1.6],[265,-0.4],[266.3,-2],[267.5,0.8],[268.8,4.2],[270.1,1.8],[271.8,-2.4],[272.6,-3.8],[273.9,-4],[275.2,-3.2],[276.9,-2.4],[278.1,-2],[279.7,-3],[281.6,-5.2],[283.3,-7.6],[284.5,-4.6],[286.1,-3],[287.4,-6.2],[288.6,-5.2],[289.9,-3.8],[291.2,-4.6],[292.5,-5.2],[293.7,-4],[295,-4],[296.3,-3.8],[297.6,-1.8],[298.9,-2.6],[300.1,-3],[301.4,-3],[302.7,-2],[303.9,-1.2],[305.3,-3.6],[306.5,-2.2],[308.5,-3.8],[310.1,-4.2],[311.4,-4],[312.7,-3.6],[314.2,-3.2],[315.5,-0.6],[317.4,2],[318.7,0.8],[326.4,1.6],[330.8,4],[332.7,8],[334,5.4],[334.9,4.4],[335.9,10.2],[337.2,10.2],[338.5,8.8],[339.8,7.6],[340.5,13.6],[341.3,10.8],[342.3,6.8],[343.6,3.6],[344.9,9.2],[346.2,6.8],[347.5,5.6],[348.5,4.4],[349.4,3.6],[350.7,3.2],[352,3.2],[353.2,6.4],[354.5,6],[355.8,5.6],[357,6.2],[358.3,6.4],[359.6,5.2],[360.9,4.4],[362.2,3.6],[363.4,6.4],[364.7,6]];

const line2014 = [[0,7.8],[0.3,-15.4],[0.6,8],[1,6],[1.5,5.4],[2,2],[2.8,-18.6],[3.3,3.8],[3.8,-6.6],[4.2,3],[5,7],[6,6.2],[7,5.6],[8,6],[9,7.4],[10,6],[11,6.2],[12,6],[12.8,1.4],[13,6],[14,5.6],[15,5],[15.5,6],[16,2.3],[16.5,8.6],[17,8.8],[18,9],[19,8.6],[20,9.2],[21,8],[22,7.2],[23,5.4],[24,5],[25,6.2],[26,5],[27,5.8],[28,5],[29,4.8],[30,3.8],[30.2,6.6],[44,7],[44.5,6.2],[45,7.8],[46,6.2],[47,7.2],[48,8.6],[49,9.4],[50,10.2],[51,9.6],[52,8.6],[53,9],[54,8.8],[55,7.8],[56,6.2],[57,6.2],[58,8.6],[58.5,11],[59,9.4],[60,7],[61,6.6],[62,7],[63,5.8],[64,5.4],[65,5],[66,6.2],[67,9],[68,7.8],[69,4.8],[70,4.4],[71,3.8],[72,3.8],[73,4.4],[74,4.9],[75,5],[76,4.8],[77,4.6],[78,3.8],[79,3],[80,2.6],[81,4.6],[82,4],[83,3.4],[84,3.8],[85,3.4],[86,4.2],[87,3.6],[88,4.2],[89,4.6],[90,3.4],[91,4.5],[92,3.8],[93,2.2],[94,1.4],[95,0.6],[96,0.4],[97,0.8],[98,0.4],[99,0.8],[100,1.2],[101,1.6],[102,1.2],[103,0.6],[104,1.6],[105,3.2],[106,6],[107,2.8],[108,3.6],[109,3.2],[110,2.8],[111,2],[112,1.6],[113,0.8],[114,1],[115,0.4],[116,0],[117,-0.4],[118,-1.2],[119,-0.8],[120,-1.2],[121,-1.6],[122,-1.8],[123,-2],[124,-3.6],[125,-4],[126,-3],[127,-3],[128,-3],[129,-2.8],[130,-2],[131,-1.2],[132,-1.6],[133,-1],[134,-0.4],[135,-1.6],[136,-2.8],[137,-3.6],[138,-4],[139,-4.4],[140,-5.6],[141,-3.4],[142,0.4],[142.5,2],[143,1.2],[144,0.4],[145,0],[146,-0.6],[147,-1.2],[148,-2.2],[149,-2.8],[150,-3.6],[151,-4],[152,-3.6],[153,-4.2],[154,-4.2],[155,-4],[156,-3.6],[157,-2.8],[158,-2.2],[159,-2.6],[160,-3.6],[161,-4],[162,-5.2],[163,-6.4],[164,-7.6],[165,-8.4],[166,-7],[167,-5.8],[168,-4.8],[169,-4],[170,-3.6],[171,-4],[172,-4.4],[173,-4],[174,-4.8],[174.5,-7.6],[175,-5.4],[176,-4.6],[177,-4.4],[178,-4],[179,-3.6],[180,-2.8],[181,-2],[182,-2.8],[183,-4.4],[184,-5.2],[185,-6.4],[186,-5.6],[187,-4.8],[188,-5.2],[189,-6],[190,-6.4],[191,-6],[192,-5.6],[193,-4.8],[194,-5.4],[195,-6],[196,-6],[197,-5.4],[198,-6],[199,-6.6],[200,-7.2],[201,-6.4],[202,-5.6],[203,-4.8],[204,-4],[205,-3.6],[206,-5.6],[207,-7.2],[208,-8.4],[209,-8.2],[210,-6.8],[211,-6],[212,-4.4],[213,-5],[214,-6.4],[215,-7.6],[216,-8],[217,-7.2],[218,-6.8],[219,-6],[220,-6.8],[221,-7.6],[222,-8],[223,-8.4],[224,-8.2],[225,-8.4],[226,-8.8],[227,-9.2],[228,-9.6],[229,-10],[230,-9.8],[231,-9.2],[232,-8.8],[233,-8],[234,-7.2],[235,-7.4],[236,-8.4],[237,-8.6],[238,-9],[239,-8.4],[240,-8.8],[241,-10],[242,-11.2],[242.5,-11.6],[243,-11],[244,-9.6],[245,-8.4],[246,-8.6],[247,-8],[248,-7.6],[249,-7.2],[250,-6.8],[251,-6],[252,-5.2],[253,-4],[253.7,-2.4],[254,-4.4],[270.5,-4.6],[270.9,-5.8],[271.6,-3.8],[272,-2],[273,-1],[274,-2.2],[275,-1],[276,-2.2],[277,-1.4],[278,-0.8],[279,-2],[280,-0.2],[281,2.2],[282,0.6],[283,0],[284,-0.2],[285,-0.4],[286,-1.4],[287,-1.4],[288,-3],[289,-4],[290,-4.6],[291,-3.2],[292,-0.2],[292.5,-1.4],[297.5,-1.4],[298,0],[299,-0.2],[300,0],[301,0.4],[302,0.6],[303,1.4],[304,0.6],[305,2],[306,3.8],[307,4.6],[308,5],[309,4.8],[310,5.4],[311,6],[312,6.2],[313,6.2],[314,6.6],[315,5.8],[316,5.2],[317,7],[318,8.2],[319,8.4],[320,8.6],[321,8.4],[322,8.6],[323,8.4],[324,10.2],[324.5,11.4],[325,10],[326,8.8],[327,9],[328,8.6],[329,8],[330,6.6],[331,5.6],[332,5],[333,4.2],[334,3.8],[335,3.4],[336,2.6],[337,3.4],[338,3.4],[339,2.2],[340,1.8],[341,2.6],[342,4],[343,5],[344,4.8],[345,5],[346,5],[347,4.2],[348,4],[349,5.4],[350,6],[351,7.8],[352,8.4],[353,7.4],[354,6.8],[355,6.6],[356,7],[357,6.2],[358,7],[359,8],[359.6,4.6],[360,7],[361,7.6],[362,9.2],[363,10],[364,11],[364.5,11.6],[365,9.4]];
const dots2014 = [[0.4,16.3],[1.7,11.4],[2.7,11.4],[3.7,11],[4.8,11.8],[5.7,10.7],[6.8,9.7],[7.8,7.1],[8.6,11],[9.6,8.9],[11.6,8.2],[13.1,5.4],[16.4,9],[17.6,13],[18.8,13.8],[20,13],[20.8,13],[21.6,10.7],[22.8,5.8],[23.7,4.6],[24.7,6.6],[25.9,6.7],[26.7,5.8],[27.9,3.9],[28.7,4.2],[29.6,3.2],[44.6,6],[45.6,8.2],[46.4,3],[47.6,3],[48.5,7.5],[49.5,14.3],[50.6,11.1],[51.8,5.4],[52.7,4.4],[54.4,7.4],[55.4,5],[56.8,8.2],[58.3,13],[59.7,2.2],[60.6,4.6],[61.7,5],[62.9,4.6],[64.1,4.6],[65.6,2.2],[66.8,3.8],[67.4,6.3],[68.6,0.6],[69.8,1],[70.7,1],[72.1,3],[73.3,6.2],[74.3,4.7],[75.4,6.3],[76.6,7.8],[77.8,4.6],[78.6,2.6],[79.6,-3.4],[80.8,-1.8],[81.6,8.7],[82.5,9.8],[83.4,6.6],[84.5,5],[85.5,7],[86.5,11],[87.5,9.5],[88.7,2.2],[89.6,3],[90.4,7],[91.6,6.8],[92.6,0.6],[93.6,-2.2],[95.1,-1],[95.5,17.6],[96.7,-3.4],[98.3,-3.2],[99.5,-2.8],[101.9,2.2],[102.8,3.2],[103.8,3],[104.6,1.2],[105.8,4],[106.9,0.8],[108.5,0.6],[109.9,1.6],[112.5,-2.8],[114,-1.2],[115.2,0],[116.4,-2],[117.2,-3.6],[118.4,-2.4],[119.9,-1.2],[121.5,1.2],[122.3,0.4],[123.5,-1.4],[125.2,-3.2],[126.4,-3.6],[128.8,0.6],[130,1.2],[131.1,-0.2],[132.6,-2],[133.7,0.4],[135.3,-0.8],[135.9,-4.4],[137,-4],[138,-2.8],[139.2,-3],[141.2,2.4],[142.4,2.4],[143.9,0.8],[145.3,0.4],[146.5,-0.2],[147.7,-3.6],[148.9,-3.8],[150,-4],[151.2,-2.8],[152.4,-3.6],[154.2,-4.4],[155.3,-3.6],[156.5,-3.6],[157.7,-0.4],[158.9,-2.8],[160.1,-4],[161.2,-2.8],[162.4,-6],[163.6,-6.8],[164.4,-7.6],[166,-5.8],[167.2,-4.4],[168.3,-3.6],[169.5,-3.6],[171.3,-4],[172.5,-5.2],[173.6,-1.6],[175.1,-6.6],[176.2,-4.8],[177.8,-2.8],[179,-3.6],[180.5,-4.6],[181.7,-1.4],[183.1,-4.2],[184.9,-7.8],[186,-6],[187.2,-5.2],[188,-4.4],[189.2,-4.8],[190.2,-6],[191.4,-7.4],[192.5,-7.4],[193.7,-7],[194.7,-3.4],[196.1,-5.2],[197.8,-4],[199,-4.8],[200.2,-6],[201.4,-6.4],[202.6,-7.6],[203.8,-6.4],[205.5,-1.4],[206.7,-5.6],[207.9,-6.8],[209.1,-8],[210.2,-7.6],[211.4,-6.8],[212.6,-3],[213.8,-6.8],[215.6,-10.4],[216.7,-8.8],[217.9,-8.2],[219.1,-6],[220.3,-5.8],[221.5,-6],[223,-8.4],[224.2,-9.4],[225.4,-9.6],[226.5,2.6],[227.7,-10.4],[228.9,-10.4],[230.1,-10.8],[231.3,-11.6],[232.1,-10.4],[233.3,-10.2],[234.4,-8.4],[235.3,-6],[236.5,0.4],[237.4,-7.2],[238.6,-8.8],[239.8,-7.2],[241,-8],[242.1,-8.8],[243.5,-7.2],[244.7,-6.8],[245.9,-8.8],[247.1,-9.2],[248,-8.4],[249.2,-6],[250.3,-5.7],[251.5,-5.2],[252.7,-4.2],[253.9,-3.3],[254.5,-3],[270.4,-4.4],[271.6,-3],[272.5,0.2],[273.4,-0.1],[274.5,-1.4],[275.4,-2.8],[276.3,-3.4],[277.3,-2.5],[278.4,-0.2],[279.6,-0.6],[280.8,-1.8],[282,0.2],[283.2,-1],[284.3,-3],[285.5,-3],[286.7,-3.4],[287.9,-3.8],[289.1,-6.2],[289.9,-6.5],[290.7,-6.6],[291.7,-4.9],[297.6,-4.6],[298.7,-1],[299.9,-0.6],[300.9,1.8],[302,-1],[302.9,0.6],[303.7,-1],[304.6,0.2],[305.8,3],[306.8,1.8],[308,2.2],[309.1,2.6],[310.3,3.8],[311.7,4.6],[313.5,3.8],[315.3,3.8],[316.5,7.9],[317.4,9.4],[318.2,7.8],[319.4,6.2],[320.6,4.6],[321.8,6.2],[322.9,5.8],[323.5,1.1],[324.7,11.4],[325.7,7.8],[326.6,2.6],[327.7,6.2],[328.8,5.8],[329.7,2.2],[330.6,1.4],[331.8,1],[333,2.3],[334.2,0.7],[335.3,0.6],[336.5,-1],[337.7,-0.2],[338.9,-0.1],[340.1,0.4],[341.2,1],[342.4,4.6],[343.6,3.8],[344.8,2.2],[345.7,1],[346.6,0.4],[347.4,1.4],[348.9,2.6],[350.1,2.3],[351.6,8.2],[352.8,5.4],[354,5.4],[354.8,3],[355.4,2.6],[356.6,4.2],[357.8,1.4],[359,3.1],[359.9,4.6],[360.7,5.4],[361.9,6.3],[363.1,7],[364.3,7.4],[365.1,7.9]];

const lines = [line2009, line2010, line2011, line2012, line2013, line2014];
const dots = [dots2009, dots2010, dots2011, dots2012, dots2013, dots2014];

const FONT = '"Open Sans", "Noto Sans", "DejaVu Sans", sans-serif';
const N = 6, LEFT = 73, RIGHT = 8, TOP0 = 48, PH = 249.6;
const AX = '#3a3a3a';
const chart = echarts.init(document.getElementById('c'), null, {renderer: 'canvas'});

const grids = [], xAxes = [], yAxes = [], series = [];
const dotted = {type: [2, 7], color: '#333', width: 1.3};
for (let i = 0; i < N; i++) {
  const last = i === N - 1;
  grids.push({left: LEFT, right: RIGHT, top: TOP0 + i * PH, height: PH});
  const common = {
    gridIndex: i, type: 'value', min: 0, max: 370, interval: 10,
    axisLine: {show: true, onZero: false, lineStyle: {color: AX, width: 1}},
    axisTick: {show: true, inside: true, length: 6, lineStyle: {color: AX}},
    minorTick: {show: true, splitNumber: 2, length: 3, lineStyle: {color: AX}},
    splitLine: {show: false}
  };
  xAxes.push(Object.assign({}, common, {
    position: 'bottom',
    axisLabel: last ? {show: true, rotate: 90, margin: 11, color: '#000', fontSize: 15.5, fontFamily: FONT} : {show: false},
    name: last ? 'Days since 1st January' : '',
    nameLocation: 'middle', nameGap: 50,
    nameTextStyle: {color: '#000', fontSize: 19, fontFamily: FONT}
  }));
  xAxes.push(Object.assign({}, common, {position: 'top', axisLabel: {show: false}}));
  const ycommon = {
    gridIndex: i, type: 'value', min: -30, max: 30, interval: 10,
    axisLine: {show: true, onZero: false, lineStyle: {color: AX, width: 1}},
    axisTick: {show: true, inside: true, length: 21, lineStyle: {color: AX}},
    minorTick: {show: true, splitNumber: 10, length: 10, lineStyle: {color: AX}},
    splitLine: {show: false}
  };
  yAxes.push(Object.assign({}, ycommon, {
    position: 'left',
    axisLabel: {
      show: true, margin: 9, color: '#000', fontSize: 14, fontFamily: FONT,
      formatter: v => v === 30 ? '{hi|30}' : (v === -30 ? '{lo|-30}' : String(v)),
      rich: {
        hi: {fontSize: 14, fontFamily: FONT, color: '#000', padding: [10, 0, 0, 0]},
        lo: {fontSize: 14, fontFamily: FONT, color: '#000', padding: [0, 0, 6, 0]}
      }
    }
  }));
  yAxes.push(Object.assign({}, ycommon, {position: 'right', axisLabel: {show: false}}));

  series.push({
    type: 'line', xAxisIndex: 2 * i, yAxisIndex: 2 * i, data: lines[i],
    showSymbol: false, symbol: 'none', animation: false, z: 2,
    lineStyle: {color: '#000', width: i >= 4 ? 2.4 : 1.1},
    markLine: {
      silent: true, symbol: ['none', 'none'], label: {show: false}, animation: false,
      data: [{yAxis: 0, lineStyle: {type: [12, 9], color: '#808080', width: 1.5}}]
        .concat(seasonBounds.map(d => ({xAxis: d, lineStyle: dotted})))
    }
  });
  series.push({
    type: 'scatter', xAxisIndex: 2 * i, yAxisIndex: 2 * i, data: dots[i],
    symbolSize: 5.5, itemStyle: {color: '#d7191c'}, animation: false, z: 3
  });
}

chart.setOption({
  animation: false,
  backgroundColor: '#fff',
  grid: grids, xAxis: xAxes, yAxis: yAxes, series: series
});

// text annotations positioned through the axes' own scales
const g = [];
g.push({type: 'text', x: 587, y: 22, style: {text: 'DOME C', fill: '#000', font: '29px ' + FONT, align: 'center', verticalAlign: 'middle'}});
g.push({type: 'text', x: 20, y: 797, rotation: Math.PI / 2,
  style: {text: 'Temperature Anomaly (K) at 5000 m', fill: '#000', font: '19.5px ' + FONT, align: 'center', verticalAlign: 'middle'}});
const rich = {
  n: {fontSize: 18.8, fontFamily: FONT, color: '#000', lineHeight: 23, verticalAlign: 'top'},
  s: {fontSize: 13, fontFamily: FONT, color: '#000', lineHeight: 15, verticalAlign: 'top', padding: [12.5, 0, 0, 0]}
};
for (let i = 0; i < N; i++) {
  const f = {xAxisIndex: 2 * i, yAxisIndex: 2 * i};
  const top = chart.convertToPixel(f, [0, 30])[1];
  seasonDays.forEach((d, k) => {
    const x = chart.convertToPixel(f, [d, 0])[0];
    g.push({type: 'text', x: x, y: top + 15, style: {text: seasons[k], fill: '#000', font: '18.5px ' + FONT, align: 'center', verticalAlign: 'middle'}});
  });
  const xc = chart.convertToPixel(f, [yearLabelDay, 0])[0];
  g.push({type: 'text', x: xc, y: top + 18, style: {text: years[i], fill: '#000', font: '29px ' + FONT, align: 'center', verticalAlign: 'middle'}});
  const linesTxt = [
    '{n|T}{s|H}{n| = ' + TH[i] + ' K}',
    '{n|T}{s|S}{n| = ' + TS[i] + ' K}',
    '{n|T}{s|H}{n| - T}{s|S}{n| = ' + THminusTS[i] + ' K}'
  ];
  linesTxt.forEach((t, k) => {
    g.push({type: 'text', x: xc, y: top + 46 + k * 19.5, style: {text: t, rich: rich, align: 'center', verticalAlign: 'middle'}});
  });
}
chart.setOption({graphic: {elements: g}});
</script>
</body></html>
